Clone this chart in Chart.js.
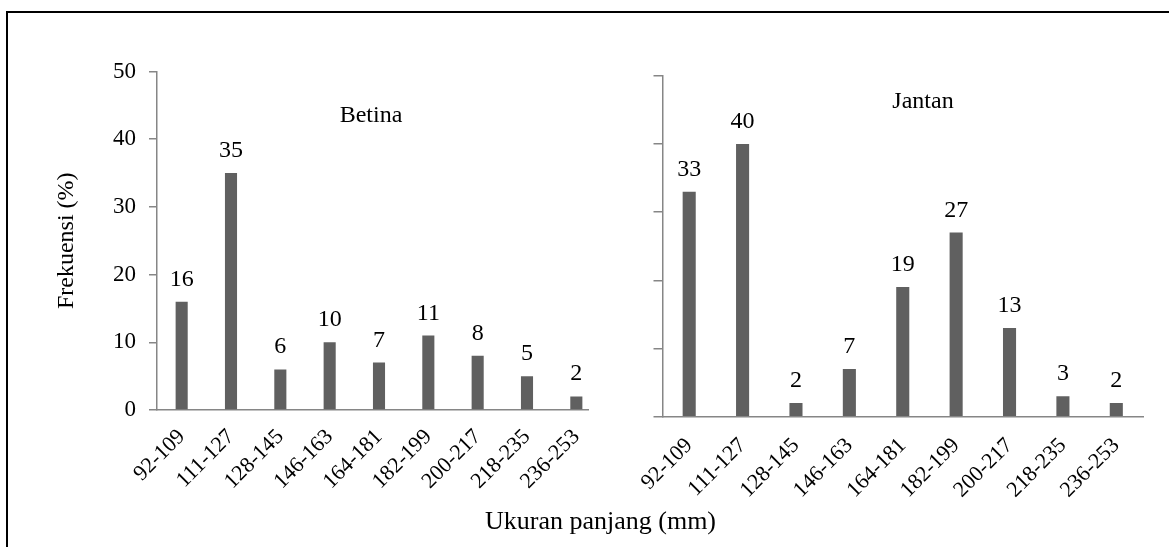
<!DOCTYPE html>
<html>
<head>
<meta charset="utf-8">
<script src="https://cdn.jsdelivr.net/npm/chart.js@4.4.0/dist/chart.umd.min.js"></script>
<style>
  body { margin: 0; background: #fff; width: 1169px; height: 547px; overflow: hidden; position: relative; }
  #frame { position: absolute; left: 6px; top: 11px; width: 1250px; height: 650px; border: 2px solid #000; box-sizing: border-box; }
  #leftClip { position: absolute; left: 0; top: 0; width: 589px; height: 547px; overflow: hidden; }
  #leftBox { position: absolute; left: 0; top: 0; width: 610px; height: 547px; }
  #rightBox { position: absolute; left: 589px; top: 0; width: 580px; height: 547px; }
  #xTitle { position: absolute; left: 0; top: 508px; width: 1201px; text-align: center;
            font: 26px/26px "Liberation Serif", "Times New Roman", serif; color: #000; }
</style>
</head>
<body>
<div id="frame"></div>
<div id="leftClip"><div id="leftBox"><canvas id="betinaChart"></canvas></div></div>
<div id="rightBox"><canvas id="jantanChart"></canvas></div>
<div id="xTitle">Ukuran panjang (mm)</div>

<script>
// data
const sizeClasses = ['92-109', '111-127', '128-145', '146-163', '164-181', '182-199', '200-217', '218-235', '236-253'];
const betinaValues = [16, 35, 6, 10, 7, 11, 8, 5, 2];
const jantanValues = [33, 40, 2, 7, 19, 27, 13, 3, 2];
const yTicks = [0, 10, 20, 30, 40, 50];

const serif = '"Liberation Serif", "Times New Roman", serif';
const axisGrey = '#868686';
const barGrey = '#606060';

// draws the number above each bar + the panel name
const valueLabels = {
  id: 'valueLabels',
  afterDatasetsDraw(chart, args, opts) {
    const ctx = chart.ctx;
    const meta = chart.getDatasetMeta(0);
    const values = chart.data.datasets[0].data;
    ctx.save();
    ctx.font = '24px ' + serif;
    ctx.fillStyle = '#000';
    ctx.textAlign = 'center';
    ctx.textBaseline = 'alphabetic';
    meta.data.forEach((bar, i) => {
      ctx.fillText(values[i], bar.x, bar.y - opts.gap);
    });
    ctx.textBaseline = 'middle';
    ctx.fillText(opts.name, opts.nameX, opts.nameY);
    ctx.restore();
  }
};

function makeChart(canvasId, values, cfg) {
  const ctx = document.getElementById(canvasId).getContext('2d');
  return new Chart(ctx, {
    type: 'bar',
    data: {
      labels: sizeClasses,
      datasets: [{
        data: values,
        backgroundColor: barGrey,
        borderWidth: 0,
        categoryPercentage: 1.0,
        barPercentage: 0.245
      }]
    },
    options: {
      responsive: true,
      maintainAspectRatio: false,
      animation: false,
      devicePixelRatio: 1,
      layout: { padding: cfg.padding },
      plugins: {
        legend: { display: false },
        tooltip: { enabled: false },
        valueLabels: cfg.labels
      },
      scales: {
        x: {
          grid: { display: false, drawTicks: false },
          border: { display: true, color: axisGrey, width: 1.5 },
          ticks: {
            autoSkip: false,
            minRotation: 45,
            maxRotation: 45,
            padding: cfg.xPad,
            color: '#000',
            font: { family: serif, size: 22 }
          },
          afterFit: scale => { scale.height = cfg.xHeight; }
        },
        y: {
          min: yTicks[0],
          max: yTicks[yTicks.length - 1],
          grid: { drawOnChartArea: false, drawTicks: true, tickLength: cfg.tickLen, color: axisGrey, lineWidth: 1.5 },
          border: { display: true, color: axisGrey, width: 1.5 },
          ticks: {
            stepSize: 10,
            display: cfg.showYLabels,
            padding: 13,
            color: '#000',
            font: { family: serif, size: 23 }
          },
          title: cfg.yTitle,
          afterFit: scale => { scale.width = cfg.yWidth; }
        }
      }
    },
    plugins: [valueLabels]
  });
}

makeChart('betinaChart', betinaValues, {
  padding: { left: 0, top: 71.5, right: 9, bottom: 0 },
  xHeight: 137,
  yWidth: 157,
  xPad: 14,
  tickLen: 8,
  showYLabels: true,
  yTitle: { display: true, text: 'Frekuensi (%)', color: '#000', font: { family: serif, size: 24 }, padding: { top: 52, bottom: 0 } },
  labels: { gap: 16, name: 'Betina', nameX: 371, nameY: 116 }
});

makeChart('jantanChart', jantanValues, {
  padding: { left: 0, top: 75.7, right: 26, bottom: 0 },
  xHeight: 130.3,
  yWidth: 73.5,
  xPad: 16,
  tickLen: 9,
  showYLabels: false,
  yTitle: { display: false },
  labels: { gap: 16, name: 'Jantan', nameX: 334, nameY: 102 }
});
</script>
</body>
</html>
